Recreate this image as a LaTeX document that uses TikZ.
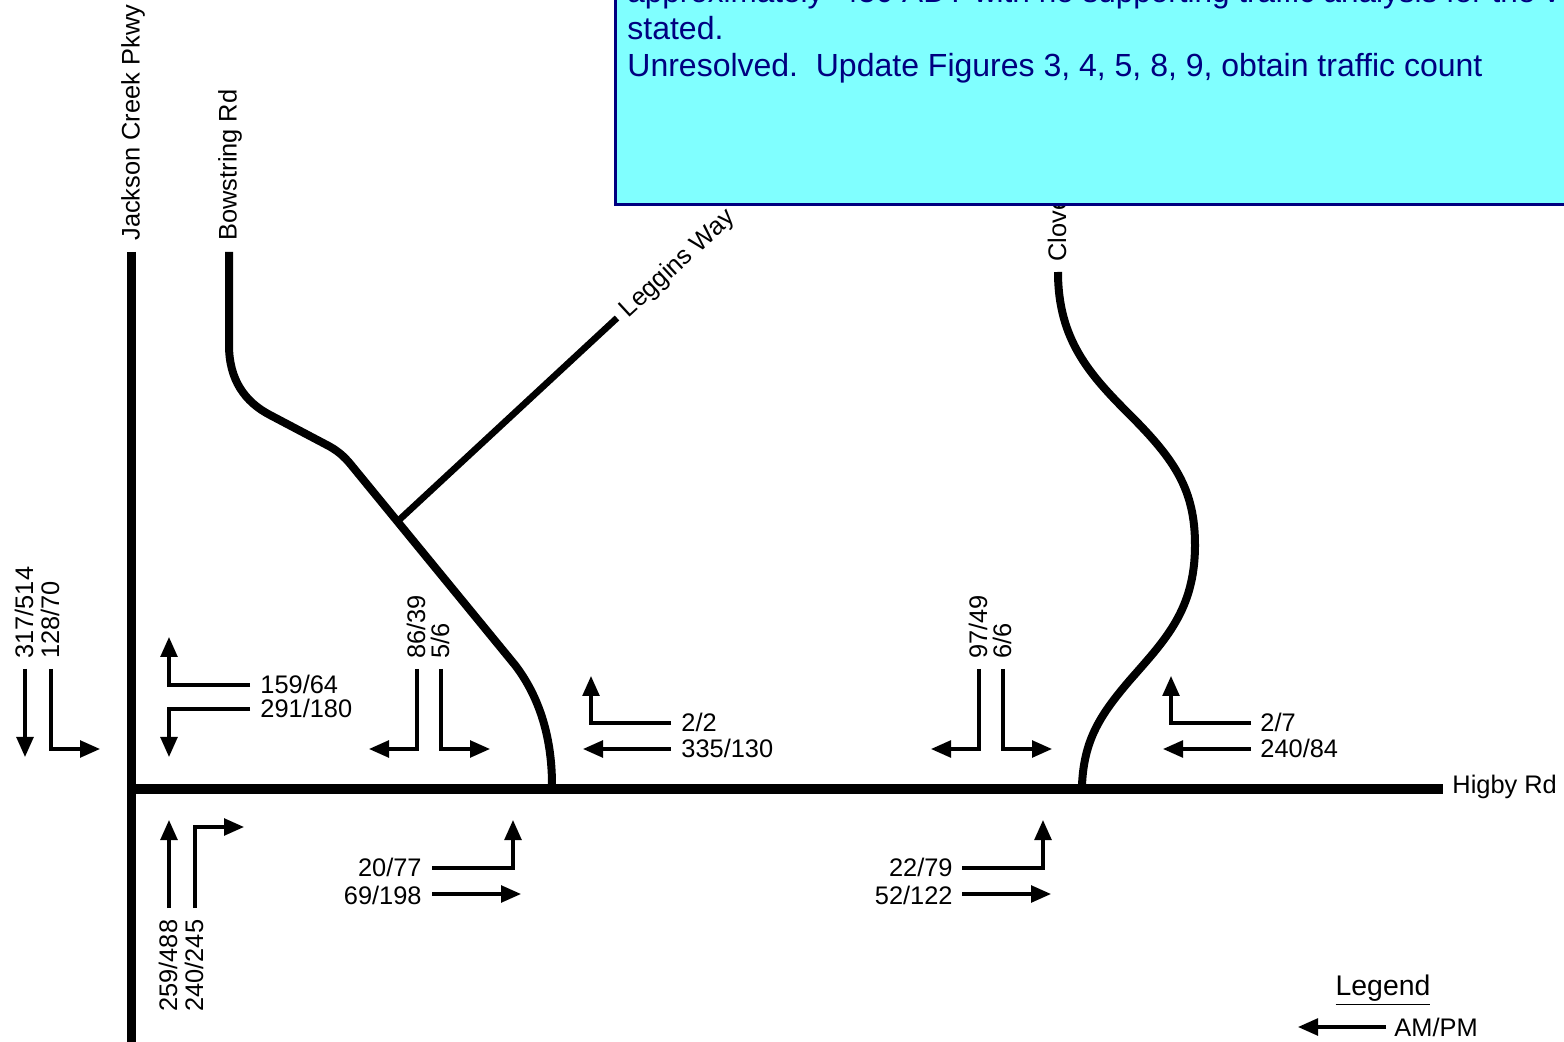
\documentclass[tikz,border=0pt]{standalone}
\usepackage{fontspec}
\setmainfont{Liberation Sans}
\usepackage{xcolor}
\usetikzlibrary{arrows.meta}
\definecolor{notefill}{RGB}{128, 255, 255}
\definecolor{notetext}{RGB}{0, 0, 128}

\begin{document}
\begin{tikzpicture}[
    x=0.5pt, y=-0.5pt,
    >={Stealth[length=10pt, width=8.4pt, inset=0pt]},
    road/.style={line width=#1, line join=round},
    road/.default=4pt,
    move/.style={->, line width=1.6pt},
    count/.style={font=\fontsize{12.7}{14}\selectfont, inner sep=0pt},
    upcount/.style={count, rotate=90, anchor=west},
    street/.style={font=\fontsize{12.7}{14}\selectfont, inner sep=0pt},
    note/.style={font=\fontsize{16}{18.5}\selectfont, text=notetext, inner sep=0pt, anchor=base west}
  ]
  \useasboundingbox (0,0) rectangle (1564,1042);
  \clip (0,0) rectangle (1564,1042);

  % Roads
  \draw[road=4.5pt] (131,252) -- (131,1042);
  \draw[road=5pt] (131,789) -- (1443,789);
  \draw[road] (229,252) -- (229,345) .. controls (229,380) and (245,402) .. (270,415)
    -- (325,444) .. controls (337,450) and (344,456) .. (352,466)
    -- (515,665) .. controls (538,695) and (552,735) .. (552,785);
  \draw[road=3.3pt] (398,521) -- (617,318);
  \draw[road] (1058,272) .. controls (1058,340) and (1090,375) .. (1130,415)
    .. controls (1175,460) and (1195,490) .. (1195,545)
    .. controls (1195,610) and (1165,640) .. (1130,680)
    .. controls (1100,715) and (1084,740) .. (1082,785);

  % Street names
  \node[street, rotate=90, anchor=west] (jackson) at (133,241) {Jackson Creek Pkwy};
  \node[street, rotate=90, anchor=west] (bowstring) at (230,241) {Bowstring Rd};
  \node[street, rotate=90, anchor=west] (clover) at (1057,262) {Clove};
  \node[street, rotate=42.7] (leggins) at (678,264) {Leggins Way};
  \node[street, anchor=west] (higby) at (1452,787) {Higby Rd};

  % Turning movements
  \draw[move] (25,669) -- (25,757);
  \draw[move] (51,669) -- (51,749) -- (100,749);
  \draw[move] (250,685) -- (169,685) -- (169,637);
  \draw[move] (250,709) -- (169,709) -- (169,757);
  \draw[move] (169,908) -- (169,820);
  \draw[move] (195,908) -- (195,827) -- (244,827);
  \foreach \dx in {0, 562} {
    \draw[move] (417+\dx,669) -- (417+\dx,749) -- (369+\dx,749);
    \draw[move] (441+\dx,669) -- (441+\dx,749) -- (490+\dx,749);
  }
  \foreach \dx in {0, 580} {
    \draw[move] (671+\dx,723) -- (591+\dx,723) -- (591+\dx,676);
    \draw[move] (671+\dx,749) -- (583+\dx,749);
  }
  \foreach \dx in {0, 530} {
    \draw[move] (432+\dx,868) -- (513+\dx,868) -- (513+\dx,820);
    \draw[move] (432+\dx,894) -- (521+\dx,894);
  }
  \draw[move] (1386,1027) -- (1298,1027);

  % Volumes
  \node[upcount] (jsbthru) at (24,659) {317/514};
  \node[upcount] (jsbleft) at (50,659) {128/70};
  \node[count, anchor=west] (jwbleft) at (260,684) {159/64};
  \node[count, anchor=west] (jwbright) at (260,708) {291/180};
  \node[upcount] (bowright) at (416,659) {86/39};
  \node[upcount] (bowleft) at (440,659) {5/6};
  \node[upcount] (cloright) at (978,659) {97/49};
  \node[upcount] (cloleft) at (1002,659) {6/6};
  \node[count, anchor=west] (wbleft) at (681,722) {2/2};
  \node[count, anchor=west] (wbthru) at (681,748) {335/130};
  \node[count, anchor=west] (wbleftb) at (1260,722) {2/7};
  \node[count, anchor=west] (wbthrub) at (1260,748) {240/84};
  \node[upcount] (jnbthru) at (168,1012) {259/488};
  \node[upcount] (jnbright) at (194,1012) {240/245};
  \node[count, anchor=east] (ebright) at (422,867) {20/77};
  \node[count, anchor=east] (ebthru) at (422,895) {69/198};
  \node[count, anchor=east] (ebrightb) at (953,867) {22/79};
  \node[count, anchor=east] (ebthrub) at (953,895) {52/122};

  % Legend
  \node[count, font=\fontsize{14.2}{16}\selectfont] (legend) at (1383,990) {\underline{Legend}};
  \node[count, anchor=west] (ampm) at (1394,1027) {AM/PM};

  % Comment box
  \node[draw=notetext, fill=notefill, line width=1.4pt, inner sep=0pt, anchor=south west,
    minimum width=500pt, minimum height=125pt] (notebox) at (614,206) {};
  \node[note, font=\fontsize{15.75}{18.5}\selectfont] (noteone) at (627,3) {approximately\ \ 450 ADT with no supporting traffic analysis for the v};
  \node[note] (notetwo) at (627,40) {stated.};
  \node[note] (notethree) at (627,77) {Unresolved.\ \ Update Figures 3, 4, 5, 8, 9, obtain traffic count};

\end{tikzpicture}
\end{document}
